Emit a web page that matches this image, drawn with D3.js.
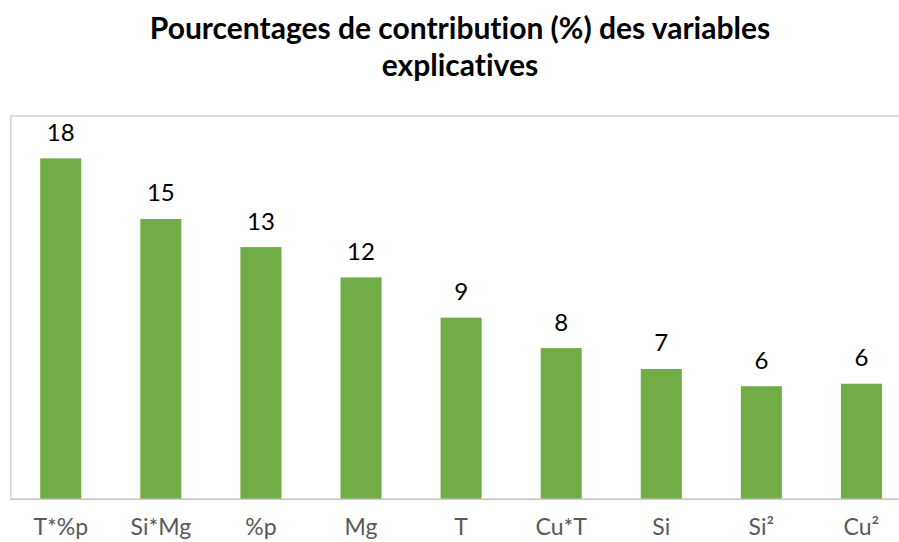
<!DOCTYPE html>
<html>
<head>
<meta charset="utf-8">
<script src="https://cdn.jsdelivr.net/npm/d3@7"></script>
<style>
  html, body { margin: 0; padding: 0; background: #fff; }
  svg { display: block; }
  text { font-variant-ligatures: none; }
</style>
</head>
<body>
<svg id="chart" width="899" height="542"></svg>
<script>
// Contribution (%) of each explanatory variable
const categories = ["T*%p", "Si*Mg", "%p", "Mg", "T", "Cu*T", "Si", "Si²", "Cu²"];
const contributions = [17.79, 14.63, 13.16, 11.58, 9.48, 7.89, 6.80, 5.90, 6.03];
const yTicks = [0, 20];

const titleLines = ["Pourcentages de contribution (%) des variables", "explicatives"];

const svg = d3.select("#chart");
const fontFamily = "Lato, 'Open Sans', sans-serif";

// Plot area (the right edge runs past the visible window)
const plot = { left: 10.7, right: 911.5, top: 116, bottom: 499.3 };

const x = d3.scaleBand()
  .domain(categories)
  .range([plot.left, plot.right])
  .paddingInner(0.59)
  .paddingOuter(0.295);

const y = d3.scaleLinear()
  .domain(d3.extent(yTicks))
  .range([plot.bottom, plot.top]);

// Outer frame of the plot area
svg.append("rect")
  .attr("x", plot.left)
  .attr("y", plot.top)
  .attr("width", plot.right - plot.left)
  .attr("height", plot.bottom - plot.top)
  .attr("fill", "none")
  .attr("stroke", "#d4d4d4")
  .attr("stroke-width", 1.5);

// Title
svg.append("g")
  .selectAll("text")
  .data(titleLines)
  .join("text")
  .attr("x", 460)
  .attr("y", (d, i) => 38.5 + i * 37.5)
  .attr("text-anchor", "middle")
  .attr("font-family", fontFamily)
  .attr("font-weight", "bold")
  .attr("font-size", 30)
  .attr("fill", "#000")
  .text(d => d);

// Bars
svg.append("g")
  .selectAll("rect")
  .data(contributions)
  .join("rect")
  .attr("x", (d, i) => x(categories[i]))
  .attr("width", x.bandwidth())
  .attr("y", d => y(d))
  .attr("height", d => y(0) - y(d))
  .attr("fill", "#70ad47");

// Baseline
svg.append("line")
  .attr("x1", plot.left)
  .attr("x2", plot.right)
  .attr("y1", y(0))
  .attr("y2", y(0))
  .attr("stroke", "#c8c8c8")
  .attr("stroke-width", 1.5);

// Value labels (rounded to whole percent)
const fmt = d3.format(".0f");
svg.append("g")
  .selectAll("text")
  .data(contributions)
  .join("text")
  .attr("x", (d, i) => x(categories[i]) + x.bandwidth() / 2)
  .attr("y", d => y(d) - 17.5)
  .attr("text-anchor", "middle")
  .attr("font-family", fontFamily)
  .attr("font-size", 24)
  .attr("fill", "#000")
  .text(d => fmt(d));

// Category axis
const xAxis = svg.append("g")
  .attr("transform", `translate(0,${y(0)})`)
  .call(d3.axisBottom(x).tickSize(0).tickPadding(19));
xAxis.select(".domain").remove();
xAxis.selectAll("text")
  .attr("font-family", fontFamily)
  .attr("font-size", 23)
  .attr("fill", "#595959");
</script>
</body>
</html>
